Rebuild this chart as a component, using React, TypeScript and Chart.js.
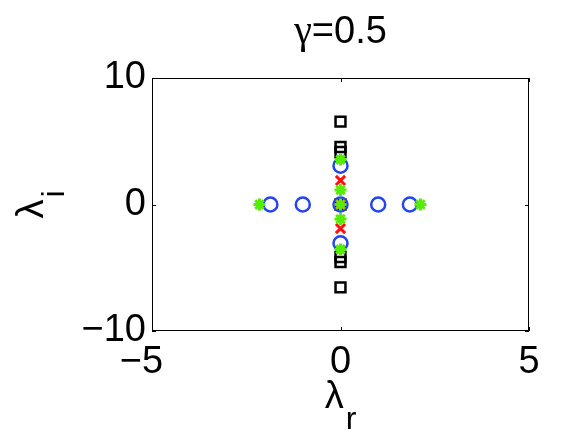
import React, { useEffect, useRef } from 'react';
import { Chart, registerables } from 'chart.js';

Chart.register(...registerables);

const titleSymbol = 'γ';
const titleRest = '=0.5';
const xLabelMain = 'λ';
const xLabelSub = 'r';
const yLabelMain = 'λ';
const yLabelSub = 'i';
const xTicks = [-5, 0, 5];
const yTicks = [-10, 0, 10];

const squareX = [0, 0, 0, 0, 0, 0, 0];
const squareY = [6.55, 4.55, 4.15, 0, -4.15, -4.55, -6.55];
const circleX = [-1.86, -1.0, 0, 1.0, 1.84, 0, 0];
const circleY = [0, 0, 0, 0, 0, 3.07, -3.07];
const crossX = [0, 0, 0];
const crossY = [1.9, 0, -1.9];
const starX = [-2.15, 2.12, 0, 0, 0, 0, 0];
const starY = [0, 0, 3.55, 1.15, 0, -1.15, -3.55];

const FONT = '"Liberation Sans", Arial, Helvetica, sans-serif';
const SERIF = '"Liberation Serif", "DejaVu Serif", serif';

const toPts = (xs: number[], ys: number[]) => xs.map((x, i) => ({ x, y: ys[i] }));

const fmt = (v: number) => (v < 0 ? '\u2212' + Math.abs(v) : String(v));

const decorPlugin = {
  id: 'decor',
  afterDraw(chart: any) {
    const { ctx, chartArea } = chart;
    const { left, right, top, bottom } = chartArea;
    const xs = chart.scales.x;
    const ys = chart.scales.y;
    ctx.save();
    // box
    ctx.strokeStyle = '#000';
    ctx.lineWidth = 1;
    ctx.strokeRect(Math.round(left) + 0.5, Math.round(top) + 0.5, Math.round(right - left) - 1, Math.round(bottom - top) - 1);
    // inward ticks
    const tl = 4;
    ctx.beginPath();
    xTicks.forEach((v) => {
      const px = Math.round(xs.getPixelForValue(v)) + 0.5;
      ctx.moveTo(px, bottom);
      ctx.lineTo(px, bottom - tl);
      ctx.moveTo(px, top);
      ctx.lineTo(px, top + tl);
    });
    yTicks.forEach((v) => {
      const py = Math.round(ys.getPixelForValue(v)) + 0.5;
      ctx.moveTo(left, py);
      ctx.lineTo(left + tl, py);
      ctx.moveTo(right, py);
      ctx.lineTo(right - tl, py);
    });
    ctx.stroke();

    ctx.fillStyle = '#000';
    // title: serif gamma + sans rest
    ctx.textAlign = 'left';
    ctx.textBaseline = 'alphabetic';
    const gFont = `40px ${SERIF}`;
    const rFont = `38px ${FONT}`;
    ctx.font = gFont;
    const gw = ctx.measureText(titleSymbol).width;
    ctx.font = rFont;
    const rw = ctx.measureText(titleRest).width;
    const tx = (left + right) / 2 - (gw + rw) / 2;
    ctx.font = gFont;
    ctx.fillText(titleSymbol, tx, 43);
    ctx.font = rFont;
    ctx.fillText(titleRest, tx + gw, 43);

    // x label
    ctx.font = `38px ${FONT}`;
    const lw = ctx.measureText(xLabelMain).width;
    const subFont = `32px ${FONT}`;
    ctx.font = subFont;
    const sw = ctx.measureText(xLabelSub).width;
    const cx = (left + right) / 2;
    const startX = cx - (lw + 2 + sw) / 2;
    ctx.font = `38px ${FONT}`;
    ctx.fillText(xLabelMain, startX, 408);
    ctx.font = subFont;
    ctx.fillText(xLabelSub, startX + lw + 2, 429);

    // y label rotated
    ctx.save();
    ctx.font = `38px ${FONT}`;
    const lw2 = ctx.measureText(yLabelMain).width;
    ctx.font = subFont;
    const sw2 = ctx.measureText(yLabelSub).width;
    const cy = (top + bottom) / 2;
    ctx.translate(43, cy + (lw2 + 2 + sw2) / 2);
    ctx.rotate(-Math.PI / 2);
    ctx.font = `38px ${FONT}`;
    ctx.fillText(yLabelMain, 0, 0);
    ctx.font = subFont;
    ctx.fillText(yLabelSub, lw2 + 2, 21);
    ctx.restore();

    ctx.restore();
  },
};

export default function App() {
  const ref = useRef<HTMLCanvasElement | null>(null);
  useEffect(() => {
    document.body.style.margin = '0';
    const canvas = ref.current;
    if (!canvas) return;
    const chart = new Chart(canvas, {
      type: 'scatter',
      data: {
        datasets: [
          {
            label: 'stars',
            data: toPts(starX, starY),
            pointStyle: 'star',
            radius: 6,
            borderWidth: 3,
            borderColor: '#55ee00',
            backgroundColor: 'rgba(0,0,0,0)',
          },
          {
            label: 'crosses',
            data: toPts(crossX, crossY),
            pointStyle: 'crossRot',
            radius: 6.5,
            borderWidth: 3,
            borderColor: '#ff1010',
            backgroundColor: 'rgba(0,0,0,0)',
          },
          {
            label: 'circles',
            data: toPts(circleX, circleY),
            pointStyle: 'circle',
            radius: 7,
            borderWidth: 2.5,
            borderColor: '#2244f2',
            backgroundColor: 'rgba(0,0,0,0)',
          },
          {
            label: 'squares',
            data: toPts(squareX, squareY),
            pointStyle: 'rect',
            radius: 7,
            borderWidth: 2.5,
            borderColor: '#000000',
            backgroundColor: 'rgba(0,0,0,0)',
          },
        ] as any,
      },
      options: {
        responsive: false,
        animation: false,
        events: [],
        layout: { padding: { left: 0, right: 55, top: 78, bottom: 0 } },
        plugins: { legend: { display: false }, tooltip: { enabled: false }, title: { display: false } },
        scales: {
          x: {
            type: 'linear',
            min: -5,
            max: 5,
            afterBuildTicks: (s: any) => {
              s.ticks = xTicks.map((v) => ({ value: v }));
            },
            afterFit: (s: any) => {
              s.height = 108;
            },
            grid: { display: false, drawTicks: false },
            border: { display: false },
            ticks: {
              autoSkip: false,
              maxRotation: 0,
              padding: 9,
              color: '#000',
              font: { family: FONT, size: 38 },
              callback: (v: any) => (Number(v) < 0 ? fmt(Number(v)) + '  ' : fmt(Number(v))),
            },
          },
          y: {
            type: 'linear',
            min: -10,
            max: 10,
            afterBuildTicks: (s: any) => {
              s.ticks = yTicks.map((v) => ({ value: v }));
            },
            afterFit: (s: any) => {
              s.width = 152;
            },
            grid: { display: false, drawTicks: false },
            border: { display: false },
            ticks: {
              autoSkip: false,
              padding: 6,
              color: '#000',
              font: { family: FONT, size: 38 },
              callback: (v: any) => fmt(Number(v)),
            },
          },
        },
      } as any,
      plugins: [decorPlugin],
    });
    return () => chart.destroy();
  }, []);
  return (
    <div style={{ position: 'absolute', left: 0, top: 0, width: 584, height: 439, background: '#fff' }}>
      <canvas ref={ref} width={584} height={439} />
    </div>
  );
}
